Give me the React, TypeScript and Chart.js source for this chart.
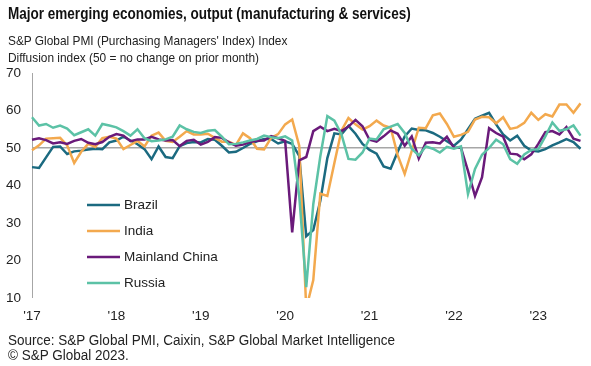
import React, { useEffect, useRef } from "react";
import { Chart, registerables } from "chart.js";

Chart.register(...registerables);

// ---- Data (monthly, Jan 2017 – Jul 2023) ----
const years = ["2017", "2018", "2019", "2020", "2021", "2022", "2023"];
const monthNames = ["Jan", "Feb", "Mar", "Apr", "May", "Jun", "Jul", "Aug", "Sep", "Oct", "Nov", "Dec"];
const monthsIn2023 = 7;
const yearTickLabels = ["'17", "'18", "'19", "'20", "'21", "'22", "'23"];

const brazil = [
  44.9, 44.7, 47.5, 50.3, 50.4, 48.4, 49.1, 49.3, 49.6, 49.8, 49.7, 51.5,
  52.0, 53.0, 52.0, 51.0, 49.7, 47.0, 50.4, 47.6, 47.3, 50.5, 51.3, 51.6,
  51.5, 52.4, 52.2, 50.6, 48.8, 49.0, 50.0, 51.1, 51.8, 52.4, 52.4, 51.2,
  51.8, 51.1, 47.9, 26.5, 28.1, 35.9, 47.3, 53.9, 53.6, 55.9, 53.8, 51.1,
  49.5, 48.5, 45.1, 44.5, 49.0, 53.1, 55.2, 54.8, 54.7, 54.0, 53.0, 51.8,
  50.6, 52.2, 55.0, 57.8, 58.6, 59.4, 56.3, 53.6, 52.0, 53.3, 50.6, 49.3,
  49.1, 49.7, 50.7, 51.5, 52.4, 51.6, 49.8,
];
const india = [
  49.4, 50.7, 52.5, 52.6, 52.7, 50.7, 46.0, 49.0, 51.1, 50.3, 52.6, 53.0,
  52.5, 49.7, 50.8, 51.9, 50.4, 53.3, 54.1, 51.9, 51.6, 53.0, 54.5, 53.6,
  53.6, 53.8, 52.7, 51.7, 51.7, 50.8, 53.9, 52.6, 49.8, 49.6, 52.7, 53.7,
  56.3, 57.6, 50.6, 7.2, 14.8, 37.8, 37.2, 46.0, 54.6, 58.0, 56.3, 54.9,
  55.8, 57.3, 56.0, 55.4, 48.1, 43.1, 49.2, 55.4, 55.3, 58.7, 59.2, 56.4,
  53.0, 53.5, 54.3, 57.6, 58.3, 58.2, 56.6, 58.2, 55.1, 55.5, 56.7, 59.4,
  57.5, 59.0, 58.4, 61.6, 61.6, 59.4, 61.9,
];
const china = [
  52.2, 52.6, 52.1, 51.2, 51.5, 51.1, 51.9, 52.4, 51.4, 51.0, 51.6, 53.0,
  53.7, 53.3, 51.8, 52.3, 52.3, 53.0, 52.3, 52.0, 52.1, 50.5, 51.9, 52.2,
  50.9, 51.6, 52.9, 52.7, 51.5, 50.6, 50.9, 51.6, 51.9, 52.0, 53.2, 52.6,
  51.9, 27.5, 46.7, 47.6, 54.5, 55.7, 54.5, 55.1, 54.5, 55.7, 57.5, 55.8,
  52.2, 51.7, 53.1, 54.7, 53.8, 50.6, 53.1, 47.2, 51.4, 51.5, 51.2, 53.0,
  50.1, 50.1, 43.9, 37.2, 42.2, 55.3, 54.0, 53.0, 48.5, 48.3, 47.0, 48.3,
  51.1, 54.2, 54.5, 53.6, 55.6, 52.5, 51.9,
];
const russia = [
  58.2, 56.0, 56.4, 55.4, 56.0, 55.2, 53.4, 54.2, 55.0, 53.3, 56.4, 56.0,
  55.5, 54.5, 53.3, 55.0, 52.6, 51.8, 52.0, 52.3, 53.0, 56.0, 55.0, 54.3,
  54.0, 54.6, 54.8, 53.0, 51.0, 51.1, 51.5, 52.0, 52.4, 53.3, 52.9, 52.6,
  53.1, 52.0, 37.2, 12.9, 35.0, 47.8, 58.5, 57.3, 53.7, 47.1, 46.9, 48.8,
  52.5, 52.3, 55.0, 55.7, 56.4, 54.0, 49.8, 48.0, 50.4, 49.8, 48.8, 50.3,
  49.8, 50.4, 37.7, 44.4, 48.2, 50.0, 52.2, 51.0, 47.0, 45.8, 48.3, 49.5,
  49.7, 53.1, 56.8, 54.6, 55.0, 56.0, 53.3,
];

const seriesNames = ["Brazil", "India", "Mainland China", "Russia"];
const seriesColors = ["#1b6a80", "#f3a94e", "#6a1a7a", "#5cc2a6"];

const categories: string[] = [];
years.forEach((y, yi) => {
  const n = yi === years.length - 1 ? monthsIn2023 : 12;
  for (let m = 0; m < n; m++) categories.push(`${monthNames[m]} ${y}`);
});

const FONT = 'Arial, "Liberation Sans", sans-serif';

const insideLegend = {
  id: "insideLegend",
  afterDraw(chart: any) {
    const { ctx, chartArea } = chart;
    const x0 = chartArea.left + 55;
    const y0 = chartArea.top + 132;
    ctx.save();
    ctx.font = `13.5px ${FONT}`;
    ctx.textBaseline = "middle";
    ctx.textAlign = "left";
    chart.data.datasets.forEach((ds: any, i: number) => {
      const y = y0 + i * 26;
      ctx.strokeStyle = ds.borderColor;
      ctx.lineWidth = 2.5;
      ctx.beginPath();
      ctx.moveTo(x0, y);
      ctx.lineTo(x0 + 33, y);
      ctx.stroke();
      ctx.fillStyle = "#222";
      ctx.fillText(ds.label, x0 + 37, y + 0.5);
    });
    ctx.restore();
  },
};

export default function App() {
  const ref = useRef<HTMLCanvasElement>(null);

  useEffect(() => {
    if (!ref.current) return;
    const seriesData = [brazil, india, china, russia];
    const chart = new Chart(ref.current, {
      type: "line",
      data: {
        labels: categories,
        datasets: seriesNames.map((name, i) => ({
          label: name,
          data: seriesData[i],
          borderColor: seriesColors[i],
          backgroundColor: seriesColors[i],
          borderWidth: 2.5,
          pointRadius: 0,
          tension: 0,
          order: seriesNames.length - 1 - i,
        })),
      },
      options: {
        animation: false,
        responsive: false,
        devicePixelRatio: 1,
        layout: { padding: { top: 73, right: 9, bottom: 0, left: 0 } },
        plugins: {
          legend: { display: false },
          tooltip: { enabled: false },
          title: { display: false },
        },
        scales: {
          x: {
            type: "category",
            offset: false,
            grid: { display: false, drawTicks: false },
            border: { display: false },
            ticks: {
              autoSkip: false,
              maxRotation: 0,
              minRotation: 0,
              padding: 10.5,
              color: "#222",
              font: { family: FONT, size: 13.5 },
              callback: (_v: any, idx: number) =>
                idx % 12 === 0 ? yearTickLabels[idx / 12] : "",
            },
            afterFit: (s: any) => {
              s.height = 68;
            },
          },
          y: {
            min: 10,
            max: 70,
            ticks: {
              stepSize: 10,
              padding: 11,
              color: "#222",
              font: { family: FONT, size: 13.5 },
            },
            grid: {
              drawTicks: false,
              color: (c: any) => (c.tick && c.tick.value === 50 ? "#a6a6a6" : "rgba(0,0,0,0)"),
              lineWidth: (c: any) => (c.tick && c.tick.value === 50 ? 1.5 : 0),
            },
            border: { display: true, color: "#a6a6a6", width: 1 },
            afterFit: (s: any) => {
              s.width = 32;
            },
          },
        },
      },
      plugins: [insideLegend],
    });
    return () => chart.destroy();
  }, []);

  const line = (top: number, size: number, text: string, opts: any = {}) => (
    <div
      style={{
        position: "absolute",
        left: 8,
        top,
        fontFamily: FONT,
        fontSize: size,
        lineHeight: `${size}px`,
        whiteSpace: "nowrap",
        color: opts.color || "#222",
        fontWeight: opts.bold ? 700 : 400,
        transform: opts.scale ? `scaleX(${opts.scale})` : undefined,
        transformOrigin: "left top",
      }}
    >
      {text}
    </div>
  );

  return (
    <div style={{ position: "absolute", left: 0, top: 0, width: 591, height: 366, background: "#fff", overflow: "hidden" }}>
      <canvas ref={ref} width={591} height={366} style={{ position: "absolute", left: 0, top: 0, width: 591, height: 366 }} />
      {line(5.5, 16, "Major emerging economies, output (manufacturing & services)", { bold: true, color: "#111", scale: 0.845 })}
      {line(33.6, 13.5, "S&P Global PMI (Purchasing Managers' Index) Index", { scale: 0.88 })}
      {line(50.6, 13.5, "Diffusion index (50 = no change on prior month)", { scale: 0.88 })}
      {line(333, 14, "Source: S&P Global PMI, Caixin, S&P Global Market Intelligence", { scale: 0.965 })}
      {line(348, 14, "© S&P Global 2023.", { scale: 0.965 })}
    </div>
  );
}
